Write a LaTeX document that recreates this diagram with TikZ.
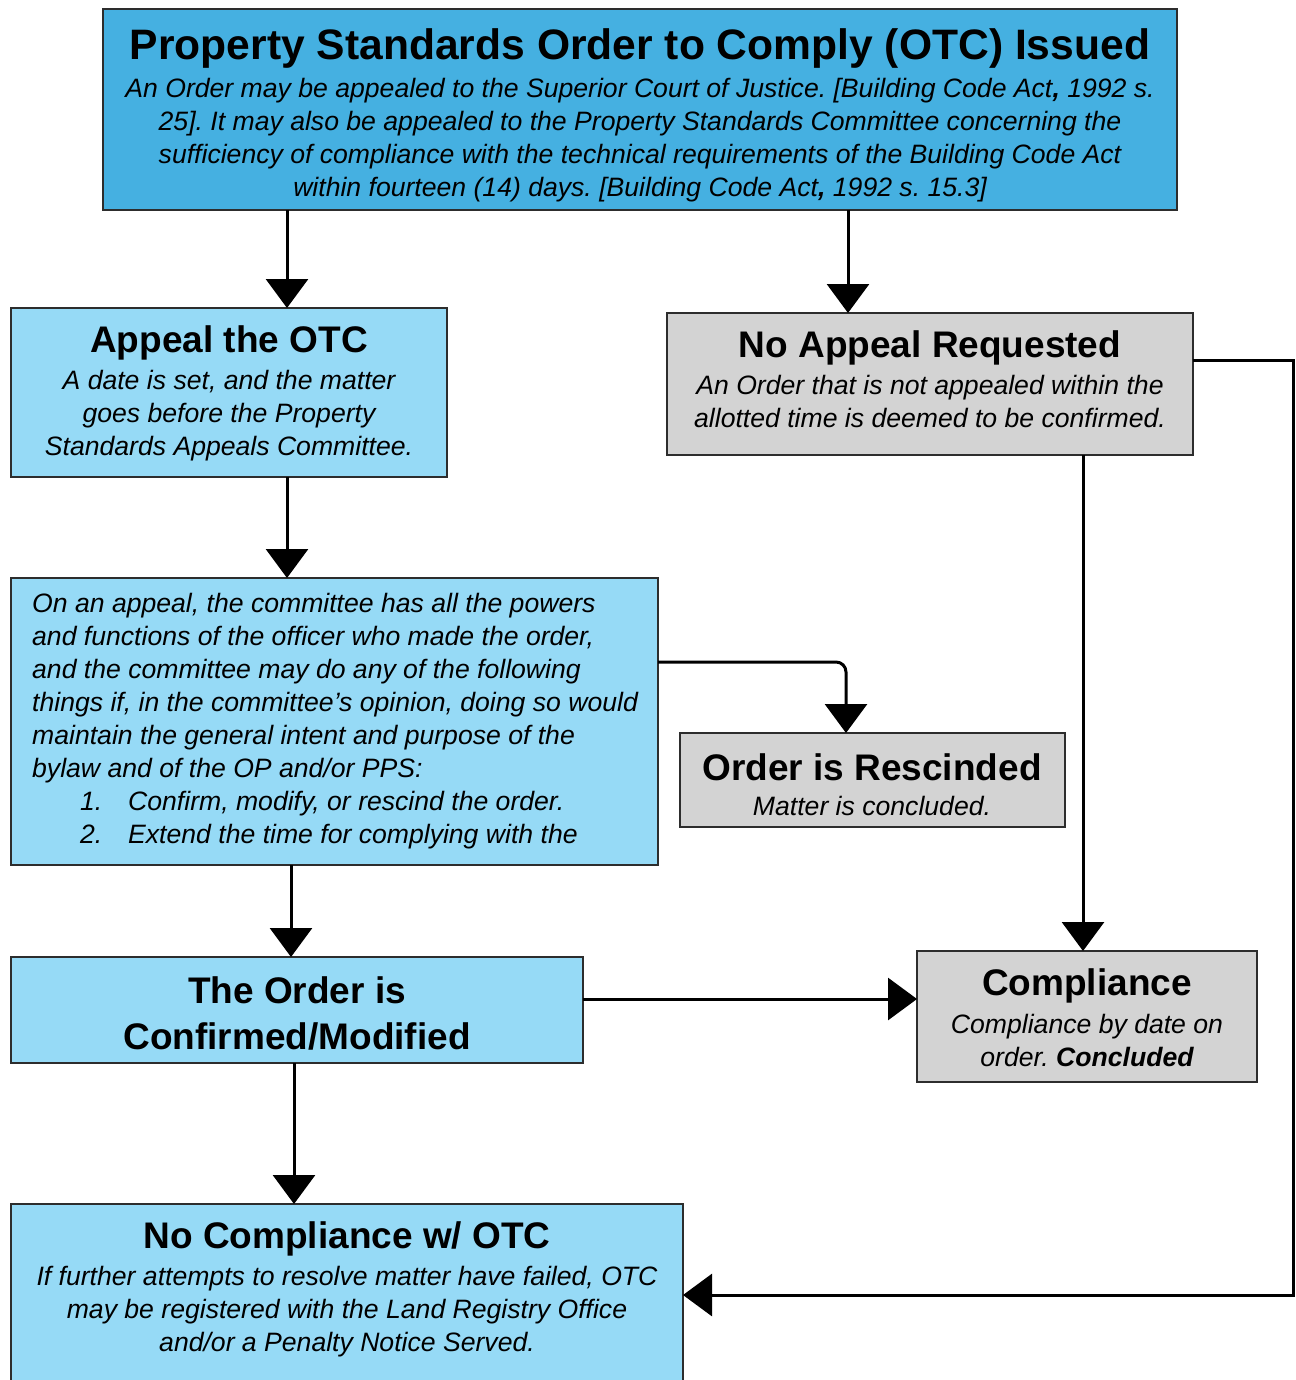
\documentclass[tikz,border=0pt]{standalone}
\usepackage{fontspec}
\setmainfont{Liberation Sans}
\usetikzlibrary{arrows.meta}
\frenchspacing
\definecolor{topblue}{RGB}{69,176,225}
\definecolor{lightblue}{RGB}{150,218,246}
\definecolor{boxgray}{RGB}{211,211,211}
\definecolor{edgecol}{RGB}{45,45,45}
\tikzset{
 box/.style={draw=edgecol, line width=1.3pt, inner sep=0pt, outer sep=0pt, anchor=north west},
 bluebox/.style={box, fill=lightblue},
 graybox/.style={box, fill=boxgray},
 ttl/.style={font=\fontsize{37}{46}\selectfont\bfseries, inner sep=0pt, align=center},
 bigttl/.style={font=\fontsize{42.6}{50}\selectfont\bfseries, inner sep=0pt, align=center},
 body/.style={font=\fontsize{26.6}{33}\selectfont\itshape, inner sep=0pt, align=center},
 arr/.style={line width=3pt, -{Triangle[length=29pt,width=42pt]}},
}
\begin{document}
\begin{tikzpicture}[x=1pt,y=-1pt]
\clip (0,0) rectangle (1295,1380);
\fill[white] (0,0) rectangle (1295,1380);

% boxes
\node[box, fill=topblue, minimum width=1074pt, minimum height=201pt] (top) at (103,9) {};
\node[bluebox, minimum width=436pt, minimum height=169pt] (appeal) at (11,308) {};
\node[graybox, minimum width=526pt, minimum height=142pt] (noappeal) at (667,313) {};
\node[bluebox, minimum width=647pt, minimum height=287pt] (onappeal) at (11,578) {};
\node[graybox, minimum width=385pt, minimum height=94pt] (rescinded) at (680,733) {};
\node[graybox, minimum width=340pt, minimum height=131pt] (compliance) at (917,951) {};
\node[bluebox, minimum width=572pt, minimum height=106pt] (confirmed) at (11,957) {};
\node[bluebox, minimum width=672pt, minimum height=220pt] (nocompliance) at (11,1204) {};

% texts
\node[bigttl] (toptitle) at (640,48) {Property Standards Order to Comply (OTC) Issued};
\node[body] (toptext) at (640,140) {An Order may be appealed to the Superior Court of Justice. [Building Code Act\textbf{,} 1992 s.\\
25]. It may also be appealed to the Property Standards Committee concerning the\\
sufficiency of compliance with the technical requirements of the Building Code Act\\
within fourteen (14) days. [Building Code Act\textbf{,} 1992 s. 15.3]};

\node[ttl] (appealtitle) at (229,343) {Appeal the OTC};
\node[body] (appealtext) at (229,416) {A date is set, and the matter\\ goes before the Property\\ Standards Appeals Committee.};

\node[ttl] (noappealtitle) at (930,348) {No Appeal Requested};
\node[body] (noappealtext) at (930,401.5) {An Order that is not appealed within the\\ allotted time is deemed to be confirmed.};

\node[body, align=left, anchor=west] (onappealtext) at (32,721) {On an appeal, the committee has all the powers\\
and functions of the officer who made the order,\\
and the committee may do any of the following\\
things if, in the committee’s opinion, doing so would\\
maintain the general intent and purpose of the\\
bylaw and of the OP and/or PPS:\\
\hspace*{48pt}\makebox[48pt][l]{1.}Confirm, modify, or rescind the order.\\
\hspace*{48pt}\makebox[48pt][l]{2.}Extend the time for complying with the};

\node[ttl] (rescindedtitle) at (872,767) {Order is Rescinded};
\node[body] (rescindedtext) at (872,806) {Matter is concluded.};

\node[ttl] (compliancetitle) at (1087,986) {Compliance};
\node[body] (compliancetext) at (1087,1040.5) {Compliance by date on\\ order. \textbf{Concluded}};

\node[ttl] (confirmedtitle) at (297,1013) {The Order is\\ Confirmed/Modified};

\node[ttl] (nocompliancetitle) at (347,1239) {No Compliance w/ OTC};
\node[body] (nocompliancetext) at (347,1312) {If further attempts to resolve matter have failed, OTC\\ may be registered with the Land Registry Office\\ and/or a Penalty Notice Served.};

% connector guides
\coordinate (ca) at (287,0);
\coordinate (cb) at (848,0);
\coordinate (cc) at (287,0);
\coordinate (cd) at (1083,0);
\coordinate (ce) at (291,0);
\coordinate (cf) at (294,0);
\coordinate (r1) at (846,662);
\coordinate (hy) at (0,999);
\coordinate (k1) at (1293,360);
\coordinate (k2) at (1293,1295);

% connectors
\draw[arr] (top.south -| ca) -- (appeal.north -| ca);
\draw[arr] (top.south -| cb) -- (noappeal.north -| cb);
\draw[arr] (appeal.south -| cc) -- (onappeal.north -| cc);
\draw[arr, rounded corners=10pt] (onappeal.east |- r1) -- (r1) -- (rescinded.north -| r1);
\draw[arr] (noappeal.south -| cd) -- (compliance.north -| cd);
\draw[arr] (onappeal.south -| ce) -- (confirmed.north -| ce);
\draw[arr] (confirmed.east |- hy) -- (compliance.west |- hy);
\draw[arr] (confirmed.south -| cf) -- (nocompliance.north -| cf);
\draw[arr] (noappeal.east |- k1) -- (k1) -- (k2) -- (nocompliance.east |- k2);
\end{tikzpicture}
\end{document}
